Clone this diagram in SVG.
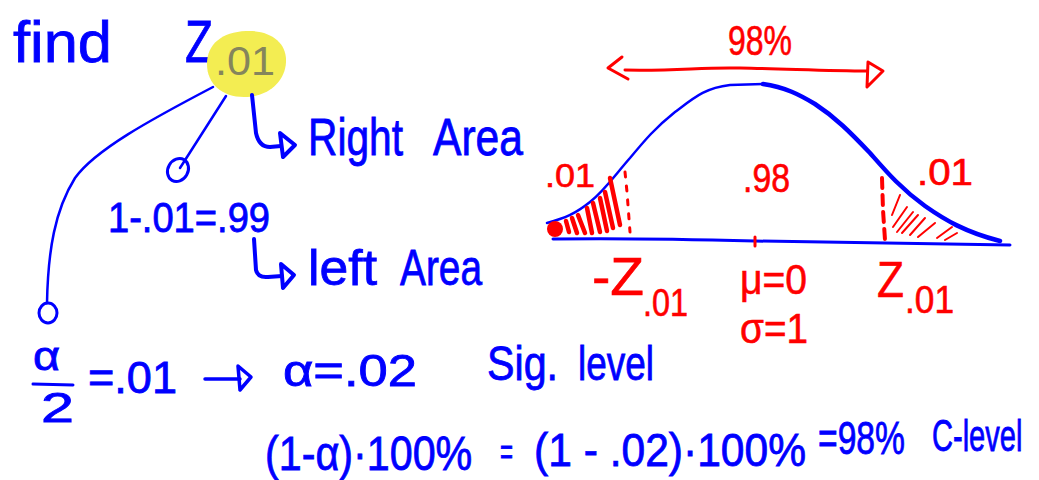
<svg xmlns="http://www.w3.org/2000/svg" width="1039" height="480" viewBox="0 0 1039 480">
<style>
.b{fill:#0000ff;stroke:#0000ff;stroke-width:0.8;font-family:"Liberation Sans","DejaVu Sans",sans-serif;}
.r{fill:#ff0000;stroke:#ff0000;stroke-width:0.6;font-family:"Liberation Sans","DejaVu Sans",sans-serif;}
.g{fill:#85855c;font-family:"Liberation Sans","DejaVu Sans",sans-serif;}
.bl{fill:none;stroke:#0000ff;stroke-linecap:round;stroke-linejoin:round;}
.rl{fill:none;stroke:#ff0000;stroke-linecap:round;stroke-linejoin:round;}
</style>
<rect width="1039" height="480" fill="#ffffff"/>

<g id="title">
<text class="b" x="13" y="62" font-size="58" textLength="99" lengthAdjust="spacingAndGlyphs">find</text>
<text class="b" x="185" y="62" font-size="60" textLength="28" lengthAdjust="spacingAndGlyphs">Z</text>
</g>

<g id="z01">
<path d="M246,31 C270,30 287,42 286,62 C285,82 268,97 244,97 C222,97 207,84 207,64 C207,44 222,32 246,31 Z" fill="#f3ed52"/>
<text class="g" x="215" y="75" font-size="40" textLength="60" lengthAdjust="spacingAndGlyphs">.01</text>
</g>

<g id="connectors">
<path class="bl" stroke-width="2.5" d="M213,87 C150,120 95,150 75,178 C55,210 48,250 47,303"/>
<ellipse class="bl" stroke-width="3" cx="48" cy="313" rx="9" ry="10"/>
<path class="bl" stroke-width="2.5" d="M226,96 L180,168"/>
<ellipse class="bl" stroke-width="3" cx="178" cy="170" rx="10" ry="12" transform="rotate(30 178 170)"/>
<path class="bl" stroke-width="4" d="M252,95 L256,133 Q259,147 270,147 L281,146"/>
<path class="bl" stroke-width="4" d="M280,133 L295,145 L283,157 Z"/>
<path class="bl" stroke-width="4" d="M254,239 L256,270 Q258,278 268,277 L282,276"/>
<path class="bl" stroke-width="4" d="M281,264 L294,275 L283,288 Z"/>
<path class="bl" stroke-width="3.5" d="M205,379 L240,379"/>
<path class="bl" stroke-width="3.5" d="M238,366 L251,377 L240,390 Z"/>
<path class="bl" stroke-width="3" d="M33,384 L73,385"/>
</g>

<g id="right-area">
<text class="b" x="308" y="155" font-size="52"><tspan x="308" textLength="95" lengthAdjust="spacingAndGlyphs">Right</tspan><tspan x="433" textLength="90" lengthAdjust="spacingAndGlyphs">Area</tspan></text>
</g>

<g id="left-area">
<text class="b" x="108" y="232" font-size="42" textLength="162" lengthAdjust="spacingAndGlyphs">1-.01=.99</text>
<text class="b" x="308" y="285" font-size="50"><tspan x="308" textLength="69" lengthAdjust="spacingAndGlyphs">left</tspan><tspan x="400" textLength="82" lengthAdjust="spacingAndGlyphs">Area</tspan></text>
</g>

<g id="alpha">
<text class="b" x="33" y="370" font-size="40" textLength="27" lengthAdjust="spacingAndGlyphs">α</text>
<text class="b" x="41" y="422" font-size="42" textLength="33" lengthAdjust="spacingAndGlyphs">2</text>
<text class="b" x="88" y="393" font-size="44" textLength="89" lengthAdjust="spacingAndGlyphs">=.01</text>
<text class="b" x="283" y="386" font-size="44" textLength="134" lengthAdjust="spacingAndGlyphs">α=.02</text>
<text class="b" x="487" y="380" font-size="48"><tspan x="487" textLength="71" lengthAdjust="spacingAndGlyphs">Sig.</tspan><tspan x="578" textLength="76" lengthAdjust="spacingAndGlyphs">level</tspan></text>
</g>

<g id="c-level">
<text class="b" transform="translate(265 470) scale(0.86 1)" x="0" y="0" font-size="48">(1-α)·100%</text>
<text class="b" x="500" y="464" font-size="36" textLength="13" lengthAdjust="spacingAndGlyphs">=</text>
<text class="b" x="534" y="466" font-size="46" textLength="272" lengthAdjust="spacingAndGlyphs">(1 - .02)·100%</text>
<text class="b" x="818" y="454" font-size="46" textLength="87" lengthAdjust="spacingAndGlyphs">=98%</text>
<text class="b" transform="translate(932 451) scale(0.66 1)" x="0" y="0" font-size="44">C-level</text>
</g>

<g id="bell-curve">
<path class="bl" stroke-width="2.5" d="M547,223 C565,218 575,214 590,202 C605,190 615,175 630,158 C645,140 655,128 675,112 C695,97 705,88 730,85 L763,84"/>
<path class="bl" stroke-width="4.5" d="M763,84 C785,87 800,95 815,104 C835,117 850,132 870,153 C885,170 900,188 925,206 C945,220 965,232 1000,241"/>
<path class="bl" stroke-width="3" d="M553,239 C620,238 680,239 755,241 C850,243 930,244 1010,245"/>
<path class="rl" stroke-width="3" d="M755,237 L755,246"/>
</g>

<g id="tails">
<circle cx="555" cy="229" r="8" fill="#ff0000"/>
<g class="rl" stroke-width="4.5">
<path d="M569,232 L566,221"/>
<path d="M577,233 L572,218"/>
<path d="M585,233 L578,215"/>
<path d="M592,233 L587,208"/>
<path d="M600,232 L593,203"/>
<path d="M607,231 L600,198"/>
<path d="M613,228 L605,192"/>
<path d="M620,225 L610,178"/>
</g>
<path class="rl" stroke-width="3" stroke-dasharray="5 9" d="M625,172 L627,192 L630,232"/>
<path class="rl" stroke-width="4" stroke-dasharray="10 7" d="M882,178 L883,210 L885,240"/>
<g class="rl" stroke-width="2">
<path d="M892,215 L900,195"/>
<path d="M893,227 L907,207"/>
<path d="M897,232 L913,212"/>
<path d="M902,233 L918,215"/>
<path d="M910,235 L925,218"/>
<path d="M918,237 L935,223"/>
<path d="M937,238 L952,227"/>
<path d="M945,240 L957,233"/>
</g>
<text class="r" x="545" y="187" font-size="34" textLength="50" lengthAdjust="spacingAndGlyphs">.01</text>
<text class="r" x="917" y="185" font-size="36" textLength="56" lengthAdjust="spacingAndGlyphs">.01</text>
<text class="r" x="743" y="192" font-size="40" textLength="47" lengthAdjust="spacingAndGlyphs">.98</text>
</g>

<g id="range">
<text class="r" x="728" y="55" font-size="42" textLength="64" lengthAdjust="spacingAndGlyphs">98%</text>
<path class="rl" stroke-width="3" d="M625,70 C680,71 700,67 740,68 C790,69 830,71 867,71"/>
<path class="rl" stroke-width="3" d="M622,57 L608,68 L628,79"/>
<path class="rl" stroke-width="3" d="M868,62 L883,71 L867,87 Z"/>
</g>

<g id="axis-labels">
<text class="r" x="592" y="295" font-size="54" textLength="52" lengthAdjust="spacingAndGlyphs">-Z</text>
<text class="r" x="643" y="316" font-size="38" textLength="45" lengthAdjust="spacingAndGlyphs">.01</text>
<text class="r" x="740" y="294" font-size="42" textLength="67" lengthAdjust="spacingAndGlyphs">μ=0</text>
<text class="r" x="740" y="343" font-size="42" textLength="68" lengthAdjust="spacingAndGlyphs">σ=1</text>
<text class="r" x="877" y="297" font-size="50" textLength="27" lengthAdjust="spacingAndGlyphs">Z</text>
<text class="r" x="905" y="313" font-size="38" textLength="49" lengthAdjust="spacingAndGlyphs">.01</text>
</g>
</svg>
